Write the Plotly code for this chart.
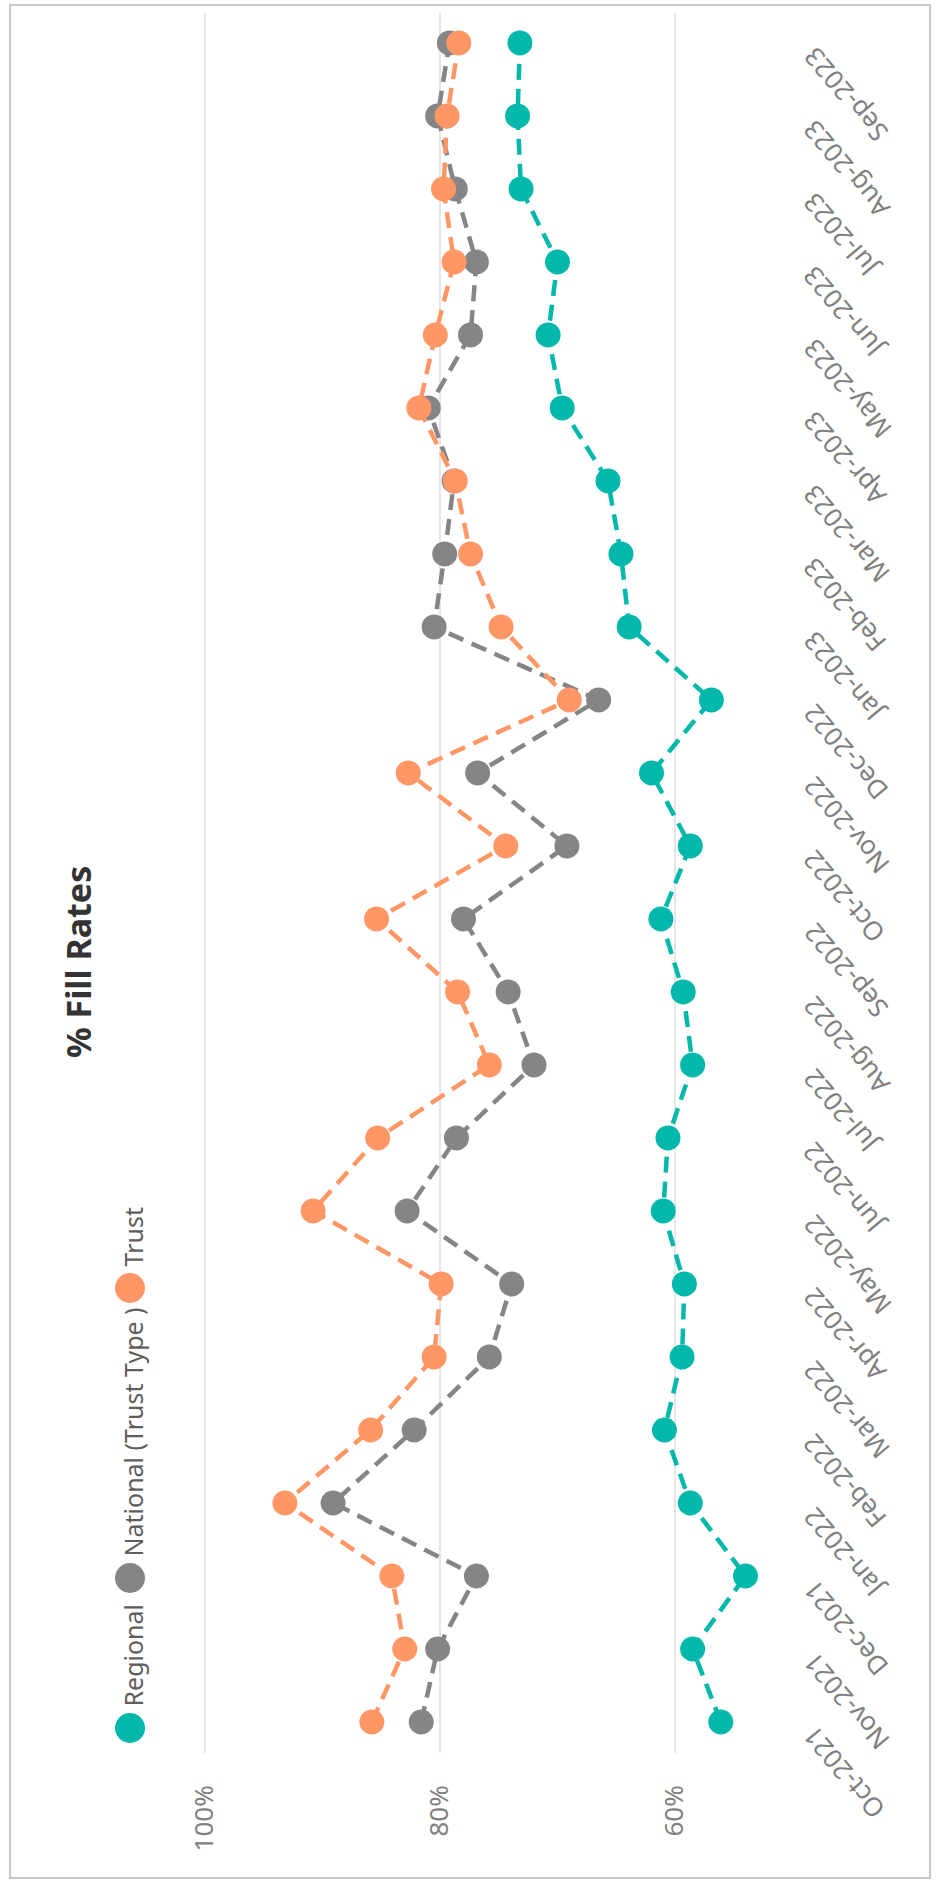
import plotly.graph_objects as go

# Monthly fill rates (%), Oct-2021 .. Sep-2023
months = ["Oct-2021", "Nov-2021", "Dec-2021", "Jan-2022", "Feb-2022", "Mar-2022",
          "Apr-2022", "May-2022", "Jun-2022", "Jul-2022", "Aug-2022", "Sep-2022",
          "Oct-2022", "Nov-2022", "Dec-2022", "Jan-2023", "Feb-2023", "Mar-2023",
          "Apr-2023", "May-2023", "Jun-2023", "Jul-2023", "Aug-2023", "Sep-2023"]
regional = [56.1, 58.5, 54.0, 58.7, 60.9, 59.4, 59.2, 61.0, 60.6, 58.5, 59.3, 61.2,
            58.7, 62.0, 56.9, 63.9, 64.6, 65.7, 69.6, 70.8, 70.0, 73.1, 73.4, 73.2]
national = [81.6, 80.2, 76.9, 89.1, 82.2, 75.8, 73.9, 82.8, 78.6, 72.0, 74.2, 78.0,
            69.2, 76.8, 66.5, 80.5, 79.6, 78.8, 81.0, 77.4, 76.9, 78.7, 80.2, 79.2]
trust = [85.8, 83.0, 84.1, 93.2, 85.9, 80.5, 79.9, 90.8, 85.3, 75.8, 78.5, 85.4,
         74.4, 82.7, 69.0, 74.8, 77.4, 78.7, 81.8, 80.4, 78.8, 79.7, 79.4, 78.4]
pct_ticks = [60, 80, 100]
pct_labels = ["60%", "80%", "100%"]

series = [("Regional", regional, "#01B8AA"),
          ("National (Trust Type )", national, "#858585"),
          ("Trust", trust, "#FE9666")]

W, H = 938, 1884
ML, MR, MT, MB = 185, 163, 13, 131
PW, PH = W - ML - MR, H - MT - MB
FONT = "Segoe UI, Noto Sans, Open Sans, sans-serif"


def px_x(px):
    return (px - ML) / PW


def px_y(py):
    return (H - MB - py) / PH


fig = go.Figure()
for name, vals, col in series:
    fig.add_trace(go.Scatter(
        x=vals, y=months, mode="lines+markers", name=name,
        line=dict(color=col, width=4.5, dash="16px,9px"),
        marker=dict(color=col, size=25),
        showlegend=False,
    ))

annotations = []
shapes = [dict(type="rect", xref="paper", yref="paper",
               x0=px_x(10), x1=px_x(930), y0=px_y(1878), y1=px_y(5),
               line=dict(color="#C8C8C8", width=2), layer="below")]

# month labels alongside the category axis, turned with the chart
for m in months:
    annotations.append(dict(
        x=px_x(792), xref="paper", y=m, yref="y",
        text=m, showarrow=False, textangle=-130,
        xanchor="left", yanchor="top", yshift=6,
        font=dict(family=FONT, size=26, color="#808080"),
    ))

# title
annotations.append(dict(
    x=px_x(78), y=px_y(962), xref="paper", yref="paper",
    text="<b>% Fill Rates</b>", showarrow=False, textangle=-90,
    xanchor="center", yanchor="middle",
    font=dict(family=FONT, size=34, color="#333333"),
))

# legend: dot centre (y px) and text start (y px) for each entry
legend_dot_y = [1728, 1578, 1288]
legend_text_y = [1709, 1559, 1269]
LEG_X = 130
for (name, _, col), dy, ty in zip(series, legend_dot_y, legend_text_y):
    r = 15
    shapes.append(dict(type="circle", xref="paper", yref="paper",
                       x0=px_x(LEG_X - r), x1=px_x(LEG_X + r),
                       y0=px_y(dy + r), y1=px_y(dy - r),
                       fillcolor=col, line=dict(width=0)))
    annotations.append(dict(
        x=px_x(LEG_X + 2), y=px_y(ty), xref="paper", yref="paper",
        text=name, showarrow=False, textangle=-90,
        xanchor="center", yanchor="bottom",
        font=dict(family=FONT, size=25, color="#605E5C"),
    ))

fig.update_layout(
    width=W, height=H,
    margin=dict(l=ML, r=MR, t=MT, b=MB, pad=0),
    paper_bgcolor="white", plot_bgcolor="white",
    annotations=annotations,
    shapes=shapes,
    xaxis=dict(
        range=[100 + (205 - ML) / 11.75, 100 - (ML + PW - 205) / 11.75],
        tickvals=pct_ticks, ticktext=pct_labels, tickangle=-90,
        showgrid=True, gridcolor="#E6E6E6", gridwidth=1.5,
        zeroline=False, showline=False, ticks="",
        ticklabelstandoff=26,
        tickfont=dict(family=FONT, size=26, color="#808080"),
    ),
    yaxis=dict(
        type="category", categoryorder="array", categoryarray=months,
        range=[-0.425, 23.41], showgrid=False, zeroline=False,
        showline=False, showticklabels=False, ticks="",
    ),
)

fig.write_html("out.html")
